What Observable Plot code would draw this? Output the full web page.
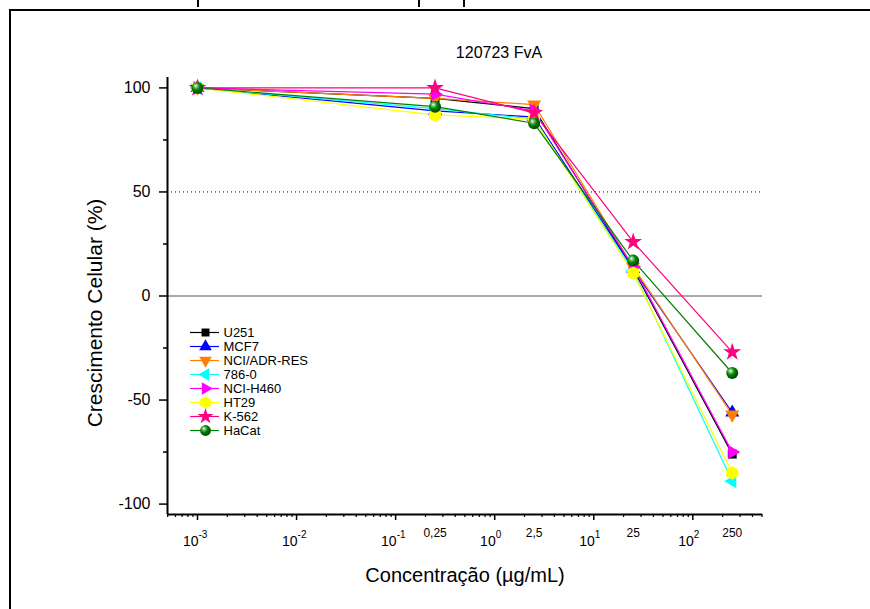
<!DOCTYPE html>
<html>
<head>
<meta charset="utf-8">
<script src="https://cdn.jsdelivr.net/npm/d3@7"></script>
<script src="https://cdn.jsdelivr.net/npm/@observablehq/plot@0.6"></script>
<style>
  html, body { margin: 0; padding: 0; background: #fff; }
  #wrap { position: relative; width: 870px; height: 609px; overflow: hidden; background: #fff; font-family: "Liberation Sans", Arial, sans-serif; }
  #border { position: absolute; left: 9px; top: 9px; width: 1000px; height: 1000px; border: 2px solid #000; box-sizing: border-box; }
  #chart, #legend { position: absolute; }
  #chart { left: 0; top: 0; }
  #legend { left: 185px; top: 313px; }
  .stub { position: absolute; top: 0; width: 2px; height: 7px; background: #000; }
</style>
</head>
<body>
<div id="wrap">
  <div class="stub" style="left:197px"></div>
  <div class="stub" style="left:418px"></div>
  <div class="stub" style="left:463px"></div>
  <div id="border"></div>
  <div id="chart"></div>
  <div id="legend"></div>
</div>
<script>
// ---- data ----
const conc = [0.001, 0.25, 2.5, 25, 250];
const concLabels = ["0,25", "2,5", "25", "250"];
const seriesNames = ["U251", "MCF7", "NCI/ADR-RES", "786-0", "NCI-H460", "HT29", "K-562", "HaCat"];
const u251   = [100, 95, 90, 13, -76];
const mcf7   = [100, 89, 86, 13, -56];
const nciAdr = [100, 95, 92, 14, -57];
const c7860  = [100, 90, 85, 12, -89];
const h460   = [100, 97, 89, 14, -75];
const ht29   = [100, 87, 85, 11, -85];
const k562   = [100, 100, 88, 26, -27];
const hacat  = [100, 91, 83, 17, -37];
const decades = [1e-3, 1e-2, 1e-1, 1, 10, 100];
const decadeExp = ["-3", "-2", "-1", "0", "1", "2"];
const yTicks = [-100, -50, 0, 50, 100];
const yMinor = [-75, -25, 25, 75];
const titleText = "120723 FvA";
const xTitle = "Concentração (µg/mL)";
const yTitle = "Crescimento Celular (%)";

// ---- styles ----
const seriesValues = [u251, mcf7, nciAdr, c7860, h460, ht29, k562, hacat];
const colors  = ["#000000", "#0000ff", "#ff8000", "#00ffff", "#ff00ff", "#ffff00", "#ff0080", "#008000"];
const symbols = ["square", "triangle", "triangle", "triangle", "triangle", "hexagon", "star", "circle"];
const rotations = [0, 0, 180, -90, 90, 0, 0, 0];
const radii = [5, 5.2, 5.2, 5.2, 5.2, 6, 5.6, 6];
const BALL = "#008001";

const rows = seriesNames.flatMap((s, i) => conc.map((c, j) => ({series: s, conc: c, value: seriesValues[i][j]})));

const xDomain = [4.98e-4, 505];
const minorX = [];
for (let e = -4; e <= 2; e++) for (let m = 2; m <= 9; m++) {
  const v = m * Math.pow(10, e);
  if (v >= xDomain[0] && v <= xDomain[1]) minorX.push(v);
}

const font = "Liberation Sans, Arial, sans-serif";

const dotMarks = seriesNames.map((s, i) => Plot.dot(rows.filter(r => r.series === s), {
  x: "conc", y: "value",
  symbol: symbols[i], r: radii[i], rotate: rotations[i],
  fill: i === 7 ? BALL : colors[i], stroke: "none"
}));

const chart = Plot.plot({
  width: 870, height: 609,
  marginLeft: 167, marginRight: 108, marginTop: 77, marginBottom: 95,
  style: {fontFamily: font, background: "transparent", overflow: "visible"},
  x: {type: "log", domain: xDomain},
  y: {domain: [-105, 105]},
  color: {domain: seriesNames, range: colors},
  marks: [
    Plot.ruleY([50], {stroke: "#000", strokeWidth: 1, strokeDasharray: "1,3"}),
    Plot.ruleY([0], {stroke: "#555", strokeWidth: 1.2}),
    Plot.line(rows, {x: "conc", y: "value", z: "series", stroke: "series", strokeWidth: 1.2}),
    ...dotMarks,
    Plot.ruleX([xDomain[0]], {stroke: "#000", strokeWidth: 2}),
    Plot.ruleY([-105], {stroke: "#000", strokeWidth: 2}),
    Plot.axisY({ticks: yTicks, tickSize: 8, tickPadding: 9, fontSize: 16, label: null, strokeWidth: 1.5, tickFormat: d => String(d), fill: "#000"}),
    Plot.axisY({ticks: yMinor, tickSize: 4, tickFormat: () => "", label: null, strokeWidth: 1.5}),
    Plot.axisX({ticks: decades, tickSize: 6, tickFormat: () => "", label: null, strokeWidth: 1.5}),
    Plot.axisX({ticks: minorX, tickSize: 3, tickFormat: () => "", label: null, strokeWidth: 1.2}),
    Plot.text(decades, {x: d => d, text: () => "10", frameAnchor: "bottom", lineAnchor: "middle", textAnchor: "end", dx: 1, dy: 27, fontSize: 14, fill: "#000"}),
    Plot.text(decadeExp, {x: (d, i) => decades[i], text: d => d, frameAnchor: "bottom", lineAnchor: "middle", textAnchor: "start", dx: 1, dy: 20, fontSize: 10, fill: "#000"}),
    Plot.text(concLabels, {x: (d, i) => conc[i + 1], text: d => d, frameAnchor: "bottom", lineAnchor: "middle", textAnchor: "middle", dy: 19, fontSize: 12, fill: "#000"}),
    Plot.text([xTitle], {frameAnchor: "bottom", lineAnchor: "middle", textAnchor: "middle", dy: 61, fontSize: 20, fill: "#000"}),
    Plot.text([yTitle], {frameAnchor: "left", lineAnchor: "middle", textAnchor: "middle", rotate: -90, dx: -72, dy: 17, fontSize: 21, fill: "#000"}),
    Plot.text([titleText], {frameAnchor: "top", lineAnchor: "middle", textAnchor: "middle", dx: 34, dy: -25, fontSize: 16, fill: "#000"})
  ]
});

// radial gradient for the HaCat spheres
const defs = d3.select(chart).insert("defs", ":first-child");
const grad = defs.append("radialGradient").attr("id", "ball").attr("cx", "40%").attr("cy", "38%").attr("r", "60%").attr("fx", "35%").attr("fy", "32%");
grad.append("stop").attr("offset", "0%").attr("stop-color", "#ffffff");
grad.append("stop").attr("offset", "22%").attr("stop-color", "#7cc47c");
grad.append("stop").attr("offset", "55%").attr("stop-color", "#008000");
grad.append("stop").attr("offset", "100%").attr("stop-color", "#004800");
d3.select(chart).selectAll(`[fill="${BALL}"]`).attr("fill", "url(#ball)");
document.getElementById("chart").append(chart);

// ---- legend (a small Plot) ----
const legend = Plot.plot({
  width: 130, height: 140, margin: 0,
  style: {fontFamily: font, background: "transparent", overflow: "visible"},
  x: {domain: [0, 130], range: [0, 130]},
  y: {type: "point", domain: seriesNames, range: [10.3, 10.3 + 7 * 16.57]},
  axis: null,
  marks: [
    Plot.ruleY(seriesNames, {y: d => d, x1: 5, x2: 34, stroke: (d, i) => colors[i], strokeWidth: 1.2}),
    ...seriesNames.map((s, i) => Plot.dot([s], {
      x: 20, y: d => d, symbol: symbols[i], r: radii[i] * 0.9, rotate: rotations[i],
      fill: i === 7 ? BALL : colors[i], stroke: "none"
    })),
    Plot.text(seriesNames, {x: 38, y: d => d, text: d => d, textAnchor: "start", fontSize: 13, fill: "#000"})
  ]
});
d3.select(legend).selectAll(`[fill="${BALL}"]`).attr("fill", "url(#ball)");
document.getElementById("legend").append(legend);
</script>
</body>
</html>
